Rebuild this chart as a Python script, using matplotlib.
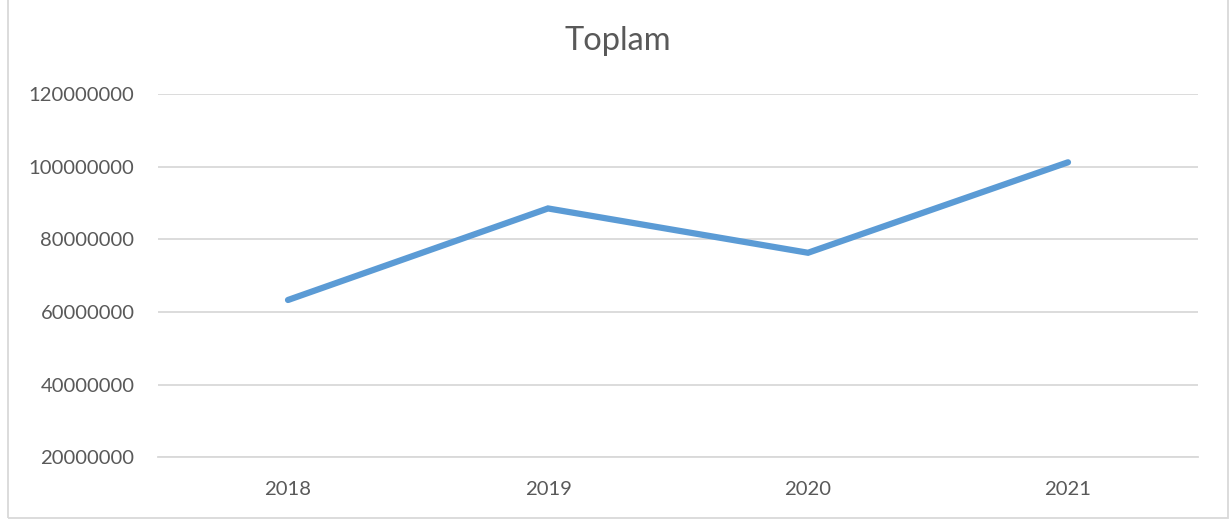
import matplotlib
matplotlib.use("Agg")
import matplotlib.pyplot as plt
from matplotlib.patches import Rectangle

years = ["2018", "2019", "2020", "2021"]
toplam = [63300000, 88500000, 76300000, 101200000]
y_ticks = [20000000, 40000000, 60000000, 80000000, 100000000, 120000000]

plt.rcParams["font.family"] = ["Lato", "DejaVu Sans"]
text_color = "#595959"
grid_color = "#D9D9D9"

fig = plt.figure(figsize=(12.31, 5.19), dpi=100)
ax = fig.add_axes([158 / 1231, 1 - 457.3 / 519, (1198 - 158) / 1231, (457.3 - 94) / 519])

x = list(range(len(years)))
ax.plot(x, toplam, color="#5B9BD5", linewidth=4.5, solid_capstyle="round",
        solid_joinstyle="miter", zorder=3)

ax.set_xlim(-0.5, len(years) - 0.5)
ax.set_ylim(y_ticks[0], y_ticks[-1])
ax.set_yticks(y_ticks)
ax.set_yticklabels([str(v) for v in y_ticks])
ax.set_xticks(x)
ax.set_xticklabels(years)
ax.grid(axis="y", color=grid_color, linewidth=1.3)
ax.set_axisbelow(True)
for s in ["top", "right", "left"]:
    ax.spines[s].set_visible(False)
ax.spines["bottom"].set_color(grid_color)
ax.spines["bottom"].set_linewidth(1.3)
ax.tick_params(axis="both", length=0, colors=text_color, labelsize=14.6)
ax.tick_params(axis="y", pad=17)
ax.tick_params(axis="x", pad=17)

fig.text(0.502, 1 - 41 / 519, "Toplam", ha="center", va="center",
         fontsize=23.5, color=text_color)

# light frame round the chart
fig.patches.append(Rectangle((8 / 1231, 0.002), (1228 - 8) / 1231, 1.1,
                             transform=fig.transFigure, fill=False,
                             edgecolor="#D9D9D9", linewidth=1.3))

fig.savefig("out.png", dpi=100)
